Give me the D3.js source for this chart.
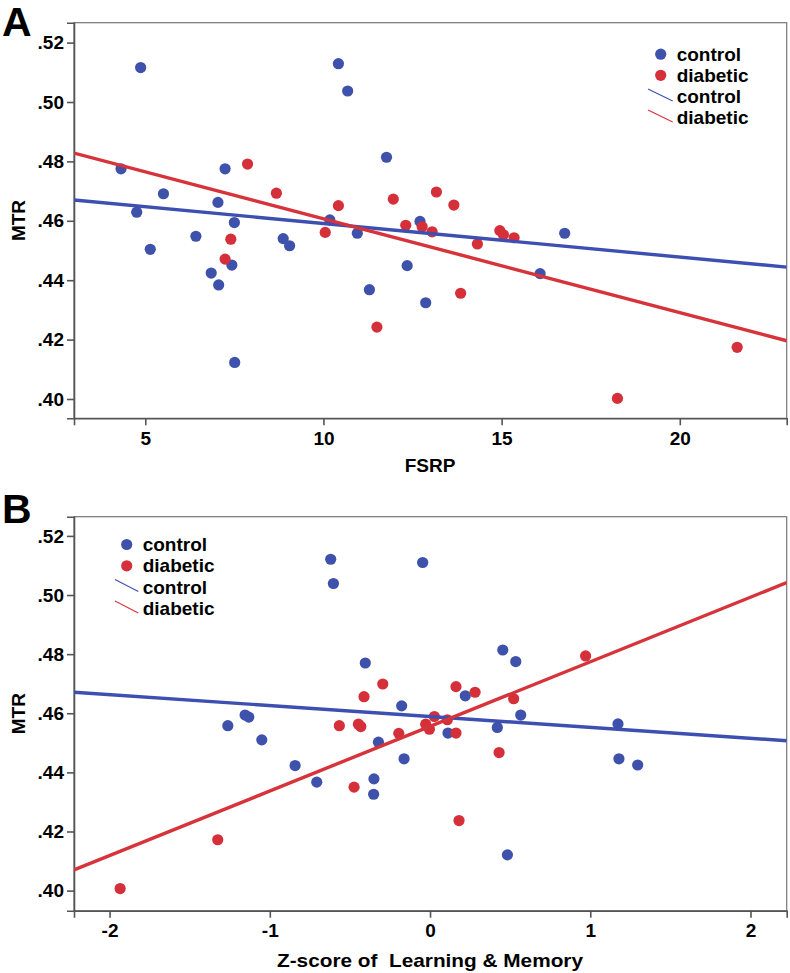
<!DOCTYPE html>
<html><head><meta charset="utf-8">
<script src="https://cdn.jsdelivr.net/npm/d3@7"></script>
<style>
html,body{margin:0;padding:0;background:#fff;}
svg text{font-family:"Liberation Sans",Arial,sans-serif;font-weight:bold;fill:#000;}
</style></head>
<body><svg id="chart" width="790" height="973"></svg>
<script>
// ---------- DATA ----------
const seriesNames = ["control", "diabetic"];
// Panel A: FSRP vs MTR
const controlA = [[4.87,.5116],[10.42,.5129],[10.68,.5037],[4.32,.4775],[5.51,.4691],[4.76,.4629],[7.24,.4775],[7.04,.4662],[7.50,.4594],[6.42,.4548],[8.87,.4540],[9.05,.4516],[5.14,.4504],[10.18,.4603],[10.95,.4558],[11.77,.4814],[7.43,.4451],[6.85,.4424],[7.06,.4384],[7.51,.4123],[11.29,.4368],[12.71,.4598],[16.77,.4558],[12.35,.4449],[12.87,.4324],[16.08,.4422]];
const diabeticA = [[7.87,.4791],[8.68,.4693],[10.42,.4651],[10.05,.4561],[7.40,.4538],[11.96,.4673],[7.24,.4471],[11.50,.4242],[13.17,.4697],[13.66,.4653],[12.31,.4585],[12.77,.4580],[13.05,.4563],[14.95,.4567],[15.05,.4553],[15.35,.4543],[14.32,.4522],[13.85,.4356],[18.25,.4002],[21.61,.4174]];
const fitControlA = [[3,.4670],[23,.4444]];
const fitDiabeticA = [[3,.4828],[23,.4196]];
// Panel B: Z-score of Learning & Memory vs MTR
const controlB = [[-0.620,.5121],[-0.603,.5039],[-0.404,.4770],[-0.177,.4625],[-1.262,.4558],[-1.154,.4594],[-1.131,.4587],[-1.050,.4510],[-0.842,.4423],[-0.707,.4367],[-0.350,.4378],[-0.352,.4326],[-0.322,.4502],[-0.162,.4446],[-0.046,.5110],[0.454,.4814],[0.535,.4775],[0.220,.4659],[0.566,.4594],[1.173,.4564],[0.420,.4552],[0.112,.4533],[1.179,.4446],[1.296,.4425],[0.483,.4121]];
const diabeticB = [[-0.295,.4699],[-0.412,.4656],[-0.566,.4558],[-0.447,.4563],[-0.432,.4555],[-0.474,.4350],[-0.195,.4532],[-1.325,.4172],[-1.934,.4007],[0.971,.4794],[0.162,.4690],[0.281,.4671],[0.522,.4649],[0.027,.4589],[0.108,.4578],[-0.027,.4563],[-0.004,.4546],[0.162,.4533],[0.431,.4467],[0.181,.4237]];
const fitControlB = [[-2.222,.4671],[2.226,.4507]];
const fitDiabeticB = [[-2.222,.4070],[2.226,.5042]];
// Axis ticks
const yTicks = [.40,.42,.44,.46,.48,.50,.52];
const xTicksA = [5,10,15,20];
const xTicksB = [-2,-1,0,1,2];

// ---------- STYLE ----------
const colors = {control:"#3f52ab", diabetic:"#d5303a"};
const lineColors = {control:"#3d4fb0", diabetic:"#d6333a"};
const svg = d3.select("#chart");
const fmtY = d => d3.format(".2f")(d).replace(/^0/, "");

function panel(opt){
  const g = svg.append("g");
  const x = d3.scaleLinear().domain(opt.xDomain).range([74, 786.7]);
  const y = d3.scaleLinear().domain(opt.yDomain).range([opt.bottom, opt.top]);
  const clipId = "clip" + opt.letter;
  svg.append("clipPath").attr("id", clipId).append("rect")
    .attr("x", 74).attr("y", opt.top).attr("width", 786.7-74).attr("height", opt.bottom-opt.top);

  // frame
  g.append("rect").attr("x",74).attr("y",opt.top).attr("width",786.7-74).attr("height",opt.bottom-opt.top)
    .attr("fill","none").attr("stroke","#777").attr("stroke-width",1.2);

  // axes
  const yAxis = d3.axisLeft(y).tickValues(yTicks).tickFormat(fmtY).tickSize(7).tickPadding(3);
  const ya = g.append("g").attr("transform","translate(74,0)").call(yAxis);
  const xAxis = d3.axisBottom(x).tickValues(opt.xTicks).tickFormat(d3.format("d")).tickSize(7).tickPadding(6);
  const xa = g.append("g").attr("transform",`translate(0,${opt.bottom})`).call(xAxis);
  [ya, xa].forEach(a => {
    a.select(".domain").attr("stroke","#555").attr("stroke-width",1.6);
    a.selectAll(".tick line").attr("stroke","#555").attr("stroke-width",1.6);
    a.selectAll(".tick text").attr("font-size",19).attr("font-weight","bold")
      .attr("font-family","'Liberation Sans',Arial,sans-serif").attr("fill","#000");
  });
  xa.selectAll(".tick text").text(d => d < 0 ? "-" + Math.abs(d) : d);

  // points
  const pts = g.append("g").attr("clip-path",`url(#${clipId})`);
  [["control", opt.control],["diabetic", opt.diabetic]].forEach(([name, data]) => {
    pts.selectAll(null).data(data).enter().append("circle")
      .attr("cx", d => x(d[0])).attr("cy", d => y(d[1])).attr("r", 5.6)
      .attr("fill", colors[name]);
  });
  // fit lines
  const line = d3.line().x(d => x(d[0])).y(d => y(d[1]));
  [["control", opt.fitC],["diabetic", opt.fitD]].forEach(([name, data]) => {
    pts.append("path").datum(data).attr("d", line).attr("fill","none")
      .attr("stroke", lineColors[name]).attr("stroke-width", 3.4);
  });

  // axis titles
  g.append("text").attr("transform",`translate(25,${(opt.top+opt.bottom)/2}) rotate(-90)`)
    .attr("text-anchor","middle").attr("font-size",19).text("MTR");
  const xt = g.append("text").attr("x", opt.xTitleX).attr("y", opt.xTitleY).attr("text-anchor","middle")
    .attr("font-size",19).attr("xml:space","preserve").style("white-space","pre").text(opt.xTitle);
  if (opt.xTitleLen) xt.attr("textLength", opt.xTitleLen).attr("lengthAdjust","spacingAndGlyphs");
  // panel letter
  g.append("text").attr("x",2).attr("y",opt.letterY).attr("font-size",41).text(opt.letter);

  // legend
  const L = opt.legend;
  const lg = g.append("g");
  seriesNames.forEach((name, i) => {
    lg.append("circle").attr("cx", L.cx).attr("cy", L.y0 + i*L.dy - 6.5).attr("r", 5.6).attr("fill", colors[name]);
    lg.append("text").attr("x", L.tx).attr("y", L.y0 + i*L.dy).attr("font-size",19).text(name);
  });
  seriesNames.forEach((name, i) => {
    const by = L.y0 + (i+2)*L.dy;
    lg.append("line").attr("x1", L.lx1).attr("x2", L.lx2).attr("y1", by-14).attr("y2", by-2)
      .attr("stroke", lineColors[name]).attr("stroke-width",1.1);
    lg.append("text").attr("x", L.tx).attr("y", by).attr("font-size",19).text(name);
  });
}

panel({letter:"A", letterY:36, top:22.7, bottom:418.3,
  xDomain:[3,23], yDomain:[0.3935,0.5267], xTicks:xTicksA,
  control:controlA, diabetic:diabeticA, fitC:fitControlA, fitD:fitDiabeticA,
  xTitle:"FSRP", xTitleX:430, xTitleY:472,
  legend:{cx:660.7, tx:676.7, lx1:648, lx2:672.7, y0:60.7, dy:21.1}});

panel({letter:"B", letterY:523, top:516.7, bottom:910.7,
  xDomain:[-2.222,2.226], yDomain:[0.3932,0.5265], xTicks:xTicksB,
  control:controlB, diabetic:diabeticB, fitC:fitControlB, fitD:fitDiabeticB,
  xTitle:"Z-score of  Learning & Memory", xTitleX:430, xTitleY:966.5, xTitleLen:306,
  legend:{cx:126.7, tx:142.7, lx1:115, lx2:138.3, y0:551, dy:21.3}});
</script></body></html>
